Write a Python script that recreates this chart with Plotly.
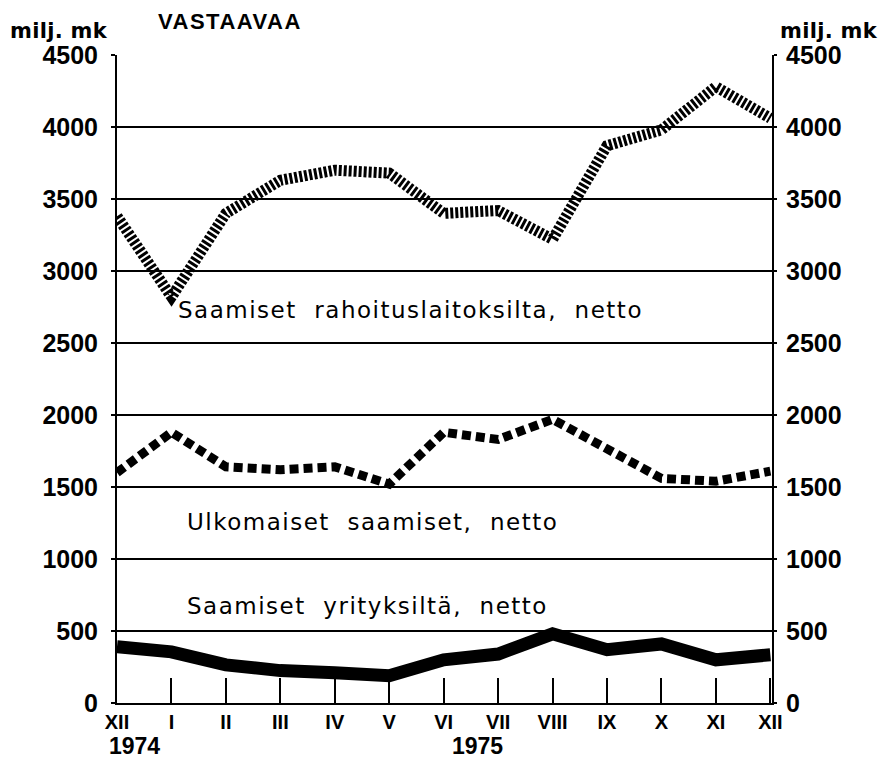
import plotly.graph_objects as go

months = ["XII", "I", "II", "III", "IV", "V", "VI", "VII", "VIII", "IX", "X", "XI", "XII"]
x_pos = list(range(len(months)))

rahoitus = [3380, 2820, 3400, 3630, 3700, 3680, 3400, 3420, 3220, 3870, 3980, 4280, 4060]
ulkomaiset = [1600, 1880, 1640, 1620, 1640, 1520, 1880, 1830, 1970, 1770, 1560, 1540, 1610]
yritykset = [390, 355, 265, 225, 210, 190, 300, 340, 480, 370, 410, 300, 335]

y_ticks = [0, 500, 1000, 1500, 2000, 2500, 3000, 3500, 4000, 4500]

BOLD = "Liberation Sans"
TXT = "DejaVu Sans"

fig = go.Figure()

fig.add_trace(go.Scatter(
    x=x_pos, y=rahoitus, mode="lines",
    line=dict(color="black", width=11, dash="3px,2px"),
    hoverinfo="skip", showlegend=False))
fig.add_trace(go.Scatter(
    x=x_pos, y=ulkomaiset, mode="lines",
    line=dict(color="black", width=9, dash="9px,5px"),
    hoverinfo="skip", showlegend=False))
fig.add_trace(go.Scatter(
    x=x_pos, y=yritykset, mode="lines",
    line=dict(color="black", width=13),
    hoverinfo="skip", showlegend=False))
# invisible trace to activate the right-hand axis
fig.add_trace(go.Scatter(
    x=x_pos, y=yritykset, mode="lines", yaxis="y2",
    line=dict(color="rgba(0,0,0,0)", width=0),
    hoverinfo="skip", showlegend=False))

fig.update_layout(
    width=885, height=751,
    margin=dict(l=109, r=121, t=47, b=56),
    paper_bgcolor="white", plot_bgcolor="white",
    showlegend=False, hovermode=False,
    xaxis=dict(
        range=[0, 12.03], tickmode="array", tickvals=x_pos, ticktext=months,
        ticks="inside", ticklen=25, tickwidth=1.5, tickcolor="black",
        showgrid=False, zeroline=False,
        showline=True, linecolor="black", linewidth=1.5,
        tickfont=dict(family=BOLD, size=20, color="black", weight="bold"),
    ),
    yaxis=dict(
        range=[0, 4500], tickmode="array", tickvals=y_ticks,
        showgrid=True, gridcolor="black", gridwidth=1.5,
        zeroline=False, showline=True, linecolor="black", linewidth=2,
        ticks="outside", ticklen=4, tickcolor="black", tickwidth=1.5,
        ticklabelstandoff=8,
        tickfont=dict(family=BOLD, size=25, color="black", weight="bold"),
    ),
    yaxis2=dict(
        range=[0, 4500], tickmode="array", tickvals=y_ticks,
        overlaying="y", side="right", showgrid=False, zeroline=False,
        showline=True, linecolor="black", linewidth=2,
        ticks="outside", ticklen=3, tickcolor="black", tickwidth=1.5,
        ticklabelstandoff=4,
        tickfont=dict(family=BOLD, size=25, color="black", weight="bold"),
    ),
)

ann_font = dict(family=TXT, size=23, color="black")
SP = "<span style='letter-spacing:1.5px'>%s</span>"
fig.add_annotation(x=1.08, y=2729, xref="x", yref="y", xanchor="left", yanchor="middle",
                   text=SP % "Saamiset\u00a0 rahoituslaitoksilta,\u00a0 netto", showarrow=False, font=ann_font)
fig.add_annotation(x=1.25, y=1257, xref="x", yref="y", xanchor="left", yanchor="middle",
                   text=SP % "Ulkomaiset\u00a0 saamiset,\u00a0 netto", showarrow=False, font=ann_font)
fig.add_annotation(x=1.25, y=674, xref="x", yref="y", xanchor="left", yanchor="middle",
                   text=SP % "Saamiset\u00a0 yrityksiltä,\u00a0 netto", showarrow=False, font=ann_font)

yr_font = dict(family=BOLD, size=23, color="black", weight="bold")
fig.add_annotation(x=-0.0137, y=-0.066, xref="paper", yref="paper", xanchor="left", yanchor="middle",
                   text="1974", showarrow=False, font=yr_font, borderpad=0)
fig.add_annotation(x=0.551, y=-0.066, xref="paper", yref="paper", xanchor="center", yanchor="middle",
                   text="1975", showarrow=False, font=yr_font, borderpad=0)

unit_font = dict(family=TXT, size=21, color="black", weight="bold")
UP = "<span style='letter-spacing:0.3px'>%s</span>"
fig.add_annotation(x=-0.1664, y=1.037, xref="paper", yref="paper", xanchor="left", yanchor="middle",
                   text=UP % "milj. mk", showarrow=False, font=unit_font)
fig.add_annotation(x=1.009, y=1.037, xref="paper", yref="paper", xanchor="left", yanchor="middle",
                   text=UP % "milj. mk", showarrow=False, font=unit_font)
fig.add_annotation(x=0.1725, y=1.052, xref="paper", yref="paper", xanchor="center", yanchor="middle",
                   text="<span style='letter-spacing:1.5px'>VASTAAVAA</span>", showarrow=False,
                   font=dict(family=BOLD, size=22, color="black", weight="bold"))

fig.write_html("out.html")
